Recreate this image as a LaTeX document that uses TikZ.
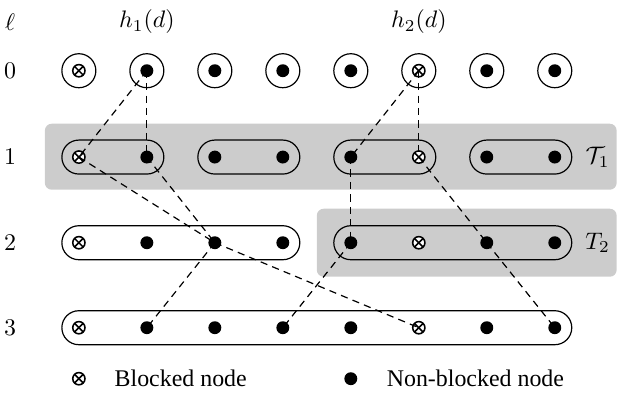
\documentclass[tikz,border=0pt]{standalone}
\usepackage{amsmath,amssymb}
\usepackage[no-math]{fontspec}
\setmainfont{Liberation Serif}
\usetikzlibrary{positioning}

\begin{document}
\begin{tikzpicture}[line width=0.5pt,
        dot/.style={circle, fill, inner sep=0pt, minimum size=1.9mm},
        blk/.style={circle, draw, fill=white, line width=0.65pt, inner sep=0pt, minimum size=1.8mm,
            path picture={
                \draw[line width=0.65pt] (path picture bounding box.north west) -- (path picture bounding box.south east);
                \draw[line width=0.65pt] (path picture bounding box.north east) -- (path picture bounding box.south west);
            }},
        grp/.style={draw, rectangle, rounded corners=2.5mm, minimum height=5mm, inner sep=0pt},
        shade/.style={fill=gray!40, rounded corners=1mm},
        link/.style={dash pattern=on 3pt off 2.2pt}
    ]
        \useasboundingbox (0,0) rectangle (9.09,-5.99);

        % Shaded trees
        \fill[shade] (0.66,-1.82) rectangle (9.07,-2.79);
        \fill[shade] (4.66,-3.07) rectangle (9.07,-4.07);

        % Headers
        \node (ell) at (0.15,-0.32) {$\ell$};
        \node (h1) at (2.16,-0.32) {$h_1(d)$};
        \node (h2) at (6.16,-0.32) {$h_2(d)$};
        \node (l0) at (0.15,-1.04) {$0$};
        \node (l1) at (0.15,-2.31) {$1$};
        \node (l2) at (0.15,-3.57) {$2$};
        \node (l3) at (0.15,-4.82) {$3$};
        \node (t1) at (8.79,-2.31) {$\mathcal{T}_1$};
        \node (t2) at (8.79,-3.57) {$T_2$};

        % Groups
        \node[grp, minimum width=5mm] (g01) at (1.16,-1.04) {};
        \node[grp, minimum width=5mm] (g02) at (2.16,-1.04) {};
        \node[grp, minimum width=5mm] (g03) at (3.16,-1.04) {};
        \node[grp, minimum width=5mm] (g04) at (4.16,-1.04) {};
        \node[grp, minimum width=5mm] (g05) at (5.16,-1.04) {};
        \node[grp, minimum width=5mm] (g06) at (6.16,-1.04) {};
        \node[grp, minimum width=5mm] (g07) at (7.16,-1.04) {};
        \node[grp, minimum width=5mm] (g08) at (8.16,-1.04) {};
        \node[grp, minimum width=15mm] (g11) at (1.66,-2.31) {};
        \node[grp, minimum width=15mm] (g12) at (3.66,-2.31) {};
        \node[grp, minimum width=15mm] (g13) at (5.66,-2.31) {};
        \node[grp, minimum width=15mm] (g14) at (7.66,-2.31) {};
        \node[grp, minimum width=35mm] (g21) at (2.66,-3.57) {};
        \node[grp, minimum width=35mm] (g22) at (6.66,-3.57) {};
        \node[grp, minimum width=75mm] (g31) at (4.66,-4.82) {};

        % Level 0
        \node[blk] (a1) at (1.16,-1.04) {};
        \node[dot] (a2) at (2.16,-1.04) {};
        \node[dot] (a3) at (3.16,-1.04) {};
        \node[dot] (a4) at (4.16,-1.04) {};
        \node[dot] (a5) at (5.16,-1.04) {};
        \node[blk] (a6) at (6.16,-1.04) {};
        \node[dot] (a7) at (7.16,-1.04) {};
        \node[dot] (a8) at (8.16,-1.04) {};

        % Level 1
        \node[blk] (b1) at (1.16,-2.31) {};
        \node[dot] (b2) at (2.16,-2.31) {};
        \node[dot] (b3) at (3.16,-2.31) {};
        \node[dot] (b4) at (4.16,-2.31) {};
        \node[dot] (b5) at (5.16,-2.31) {};
        \node[blk] (b6) at (6.16,-2.31) {};
        \node[dot] (b7) at (7.16,-2.31) {};
        \node[dot] (b8) at (8.16,-2.31) {};

        % Level 2
        \node[blk] (c1) at (1.16,-3.57) {};
        \node[dot] (c2) at (2.16,-3.57) {};
        \node[dot] (c3) at (3.16,-3.57) {};
        \node[dot] (c4) at (4.16,-3.57) {};
        \node[dot] (c5) at (5.16,-3.57) {};
        \node[blk] (c6) at (6.16,-3.57) {};
        \node[dot] (c7) at (7.16,-3.57) {};
        \node[dot] (c8) at (8.16,-3.57) {};

        % Level 3
        \node[blk] (d1) at (1.16,-4.82) {};
        \node[dot] (d2) at (2.16,-4.82) {};
        \node[dot] (d3) at (3.16,-4.82) {};
        \node[dot] (d4) at (4.16,-4.82) {};
        \node[dot] (d5) at (5.16,-4.82) {};
        \node[blk] (d6) at (6.16,-4.82) {};
        \node[dot] (d7) at (7.16,-4.82) {};
        \node[dot] (d8) at (8.16,-4.82) {};

        % Paths of h_1(d)
        \draw[link] (a2.center) -- (b1.center);
        \draw[link] (a2.center) -- (b2.center);
        \draw[link] (b1.center) -- (c3.center);
        \draw[link] (b2.center) -- (c3.center);
        \draw[link] (c3.center) -- (d2.center);
        \draw[link] (c3.center) -- (d6.center);

        % Paths of h_2(d)
        \draw[link] (a6.center) -- (b5.center);
        \draw[link] (a6.center) -- (b6.center);
        \draw[link] (b5.center) -- (c5.center);
        \draw[link] (b6.center) -- (c7.center);
        \draw[link] (c5.center) -- (d4.center);
        \draw[link] (c7.center) -- (d8.center);

        % Legend
        \node[blk] (kb) at (1.16,-5.57) {};
        \node[right=3mm of kb] (kbt) {Blocked node};
        \node[dot] (kd) at (5.16,-5.57) {};
        \node[right=3mm of kd] (kdt) {Non-blocked node};
    \end{tikzpicture}
\end{document}
